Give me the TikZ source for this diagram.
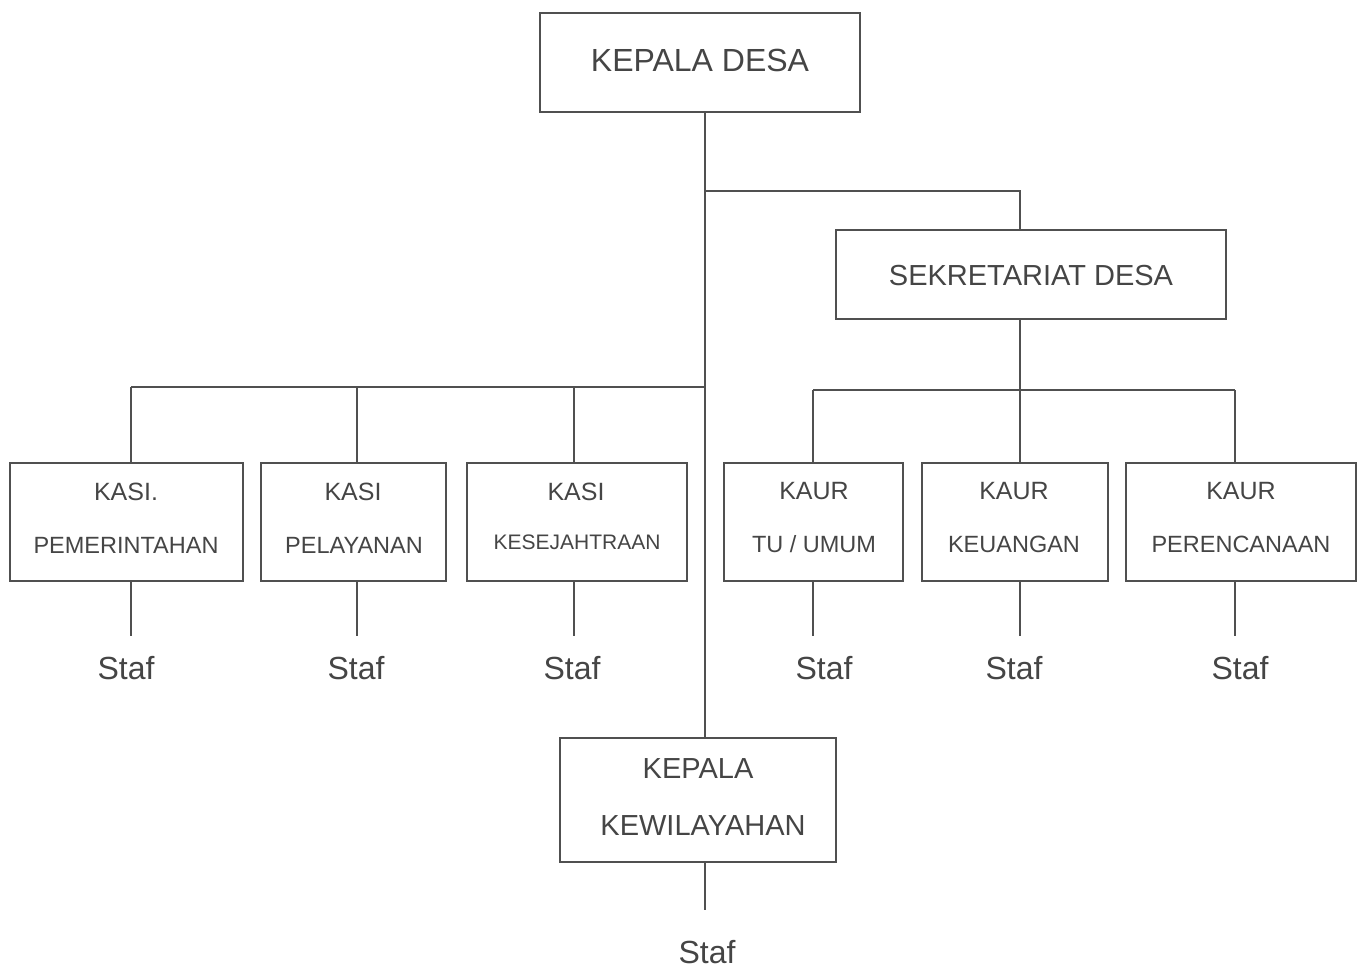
\documentclass[tikz,border=0pt]{standalone}
\usepackage{fontspec}
\setmainfont{Liberation Sans}
\usetikzlibrary{calc}
\definecolor{ink}{HTML}{454545}
\definecolor{edge}{HTML}{505050}
\tikzset{
  box/.style={draw=edge, line width=2.2pt, rectangle, inner sep=0pt},
  conn/.style={draw=edge, line width=2.2pt},
  lbl/.style={text=ink, anchor=base, inner sep=0pt},
  big/.style={lbl, font=\fontsize{32}{36}\selectfont},
  mid/.style={lbl, font=\fontsize{29}{33}\selectfont},
  top/.style={lbl, font=\fontsize{25}{29}\selectfont},
  sub/.style={lbl, font=\fontsize{23.5}{27}\selectfont},
  staf/.style={lbl, font=\fontsize{32}{36}\selectfont},
}
\begin{document}
\begin{tikzpicture}[x=1pt,y=-1pt]
\useasboundingbox (0,0) rectangle (1359,969);
% boxes
\node[box, minimum width=320, minimum height=99] (kd) at (700,62.5) {};
\node[box, minimum width=390, minimum height=89] (sd) at (1031,274.5) {};
\node[box, minimum width=233, minimum height=118] (k1) at (126.5,522) {};
\node[box, minimum width=185, minimum height=118] (k2) at (353.5,522) {};
\node[box, minimum width=220, minimum height=118] (k3) at (577,522) {};
\node[box, minimum width=179, minimum height=118] (u1) at (813.5,522) {};
\node[box, minimum width=186, minimum height=118] (u2) at (1015,522) {};
\node[box, minimum width=230, minimum height=118] (u3) at (1241,522) {};
\node[box, minimum width=276, minimum height=124] (kw) at (698,800) {};
% labels
\node[big] (tkd) at (700,71) {KEPALA DESA};
\node[mid] (tsd) at (1031,285) {SEKRETARIAT DESA};
\node[top] (t1a) at (126,500) {KASI.};
\node[sub] (t1b) at (126,553) {PEMERINTAHAN};
\node[top] (t2a) at (353,500) {KASI};
\node[sub] (t2b) at (354,553) {PELAYANAN};
\node[top] (t3a) at (576,500) {KASI};
\node[lbl, font=\fontsize{21}{25}\selectfont] (t3b) at (577,549) {KESEJAHTRAAN};
\node[top] (t4a) at (814,499) {KAUR};
\node[sub] (t4b) at (814,552) {TU / UMUM};
\node[top] (t5a) at (1014,499) {KAUR};
\node[sub] (t5b) at (1014,552) {KEUANGAN};
\node[top] (t6a) at (1241,499) {KAUR};
\node[sub] (t6b) at (1241,552) {PERENCANAAN};
\node[mid] (twa) at (698,778) {KEPALA};
\node[mid] (twb) at (703,835) {KEWILAYAHAN};
% staf
\node[staf] (s1) at (126,679) {Staf};
\node[staf] (s2) at (356,679) {Staf};
\node[staf] (s3) at (572,679) {Staf};
\node[staf] (s4) at (824,679) {Staf};
\node[staf] (s5) at (1014,679) {Staf};
\node[staf] (s6) at (1240,679) {Staf};
\node[staf] (s7) at (707,963) {Staf};
% junction coordinates
\coordinate (trunk) at (705,191);
\coordinate (lbar) at (705,387);
\coordinate (sdx) at (1020,191);
\coordinate (rbar) at (1020,390);
\coordinate (x1) at (131,387);
\coordinate (x2) at (357,387);
\coordinate (x3) at (574,387);
\coordinate (y1) at (813,390);
\coordinate (y3) at (1235,390);
\coordinate (e1) at (131,636);
\coordinate (e2) at (357,636);
\coordinate (e3) at (574,636);
\coordinate (e4) at (813,636);
\coordinate (e5) at (1020,636);
\coordinate (e6) at (1235,636);
\coordinate (e7) at (705,910);
% connectors
\draw[conn] (kd.south -| trunk) -- (kw.north -| trunk);
\draw[conn] (trunk) -- (sdx) -- (sd.north -| sdx);
\draw[conn] (x1) -- (lbar);
\draw[conn] (x1) -- (k1.north -| x1);
\draw[conn] (x2) -- (k2.north -| x2);
\draw[conn] (x3) -- (k3.north -| x3);
\draw[conn] (sd.south -| rbar) -- (u2.north -| rbar);
\draw[conn] (y1) -- (y3);
\draw[conn] (y1) -- (u1.north -| y1);
\draw[conn] (y3) -- (u3.north -| y3);
\draw[conn] (k1.south -| e1) -- (e1);
\draw[conn] (k2.south -| e2) -- (e2);
\draw[conn] (k3.south -| e3) -- (e3);
\draw[conn] (u1.south -| e4) -- (e4);
\draw[conn] (u2.south -| e5) -- (e5);
\draw[conn] (u3.south -| e6) -- (e6);
\draw[conn] (kw.south -| e7) -- (e7);
\end{tikzpicture}
\end{document}
